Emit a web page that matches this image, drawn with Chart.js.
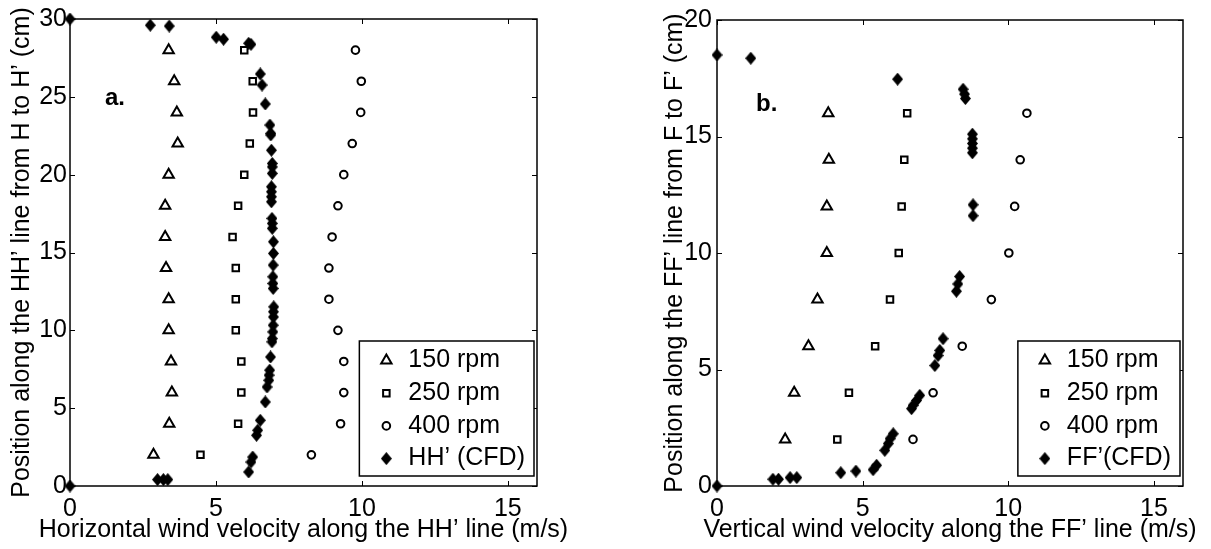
<!DOCTYPE html>
<html lang="en">
<head>
<meta charset="UTF-8">
<title>Wind velocity along HH' and FF'</title>
<script src="https://cdn.jsdelivr.net/npm/chart.js"></script>
<style>
  body { margin: 0; background: #fff; }
  .wrap { position: relative; width: 1211px; height: 549px; }
  canvas { position: absolute; top: 0; }
  #chartA { left: 0; }
  #chartB { left: 605px; }
</style>
</head>
<body>
<div class="wrap">
  <canvas id="chartA" width="605" height="549"></canvas>
  <canvas id="chartB" width="606" height="549"></canvas>
</div>

<script>
// ---- values ----
const xTicks = [0, 5, 10, 15];
const yTicksHH = [0, 5, 10, 15, 20, 25, 30];
const yTicksFF = [0, 5, 10, 15, 20];

// panel a: horizontal velocity along HH'
const posHH = [2, 4, 6, 8, 10, 12, 14, 16, 18, 20, 22, 24, 26, 28];
const hh150 = [2.86, 3.40, 3.49, 3.46, 3.38, 3.38, 3.29, 3.26, 3.26, 3.38, 3.69, 3.66, 3.57, 3.38];
const hh250 = [4.47, 5.76, 5.87, 5.87, 5.68, 5.68, 5.68, 5.57, 5.76, 5.97, 6.16, 6.27, 6.26, 5.97];
const hh400 = [8.27, 9.27, 9.38, 9.38, 9.18, 8.87, 8.87, 8.98, 9.18, 9.38, 9.67, 9.96, 9.98, 9.78];
const cfdHHvel = [0, 3.0, 3.2, 3.35, 6.12, 6.2, 6.26, 6.39, 6.43, 6.52, 6.69, 6.75, 6.81, 6.82, 6.84,
  6.87, 6.92, 6.93, 6.95, 6.96, 6.97, 6.97, 6.98, 6.96, 6.95, 6.95, 6.96, 6.97, 6.97, 6.93, 6.93,
  6.92, 6.9, 6.9, 6.9, 6.9, 6.93, 6.93, 6.93, 6.9, 6.88, 6.88, 6.85, 6.69, 6.58, 6.52, 6.2, 6.12,
  5.26, 5.01, 3.4, 2.75, 0];
const cfdHHpos = [0, 0.41, 0.41, 0.41, 0.9, 1.54, 1.86, 3.26, 3.58, 4.22, 5.4, 6.36, 6.79, 7.12, 7.44,
  8.29, 9.26, 9.47, 9.9, 10.33, 10.86, 11.19, 11.51, 12.69, 13.01, 13.44, 14.19, 14.94, 15.69, 16.55, 16.87,
  17.19, 18.26, 18.58, 18.9, 19.22, 20.08, 20.5, 20.72, 21.57, 22.55, 22.65, 23.19, 24.54, 25.76, 26.47, 28.37, 28.44,
  28.7, 28.83, 29.55, 29.6, 30];

// panel b: vertical velocity along FF'
const posFF = [2, 4, 6, 8, 10, 12, 14, 16];
const ff150 = [2.34, 2.65, 3.14, 3.45, 3.77, 3.77, 3.84, 3.82];
const ff250 = [4.13, 4.53, 5.43, 5.94, 6.24, 6.34, 6.43, 6.53];
const ff400 = [6.73, 7.42, 8.42, 9.42, 10.02, 10.22, 10.41, 10.64];
const cfdFFvel = [0, 1.92, 2.11, 2.51, 2.74, 4.25, 4.77, 5.36, 5.48, 5.76, 5.88, 5.94, 6.05,
  6.68, 6.73, 6.85, 6.96, 7.48, 7.59, 7.65, 7.76, 8.22, 8.27, 8.33, 8.79, 8.79,
  8.77, 8.77, 8.77, 8.77, 8.77, 8.53, 8.5, 8.45, 6.2, 1.16, 0];
const cfdFFpos = [0, 0.29, 0.29, 0.36, 0.36, 0.57, 0.64, 0.7, 0.89, 1.53, 1.82, 2.03, 2.24,
  3.32, 3.46, 3.67, 3.89, 5.17, 5.6, 5.82, 6.32, 8.36, 8.67, 8.99, 11.6, 12.07,
  14.3, 14.5, 14.7, 14.9, 15.1, 16.63, 16.82, 17.03, 17.46, 18.36, 18.5];

const FONT = '"Liberation Sans", Arial, sans-serif';
const pts = (xs, ys) => xs.map((v, i) => ({ x: v, y: ys[i] }));

// filled diamond, a bit taller than wide like the matlab marker
function diamond(w, h) {
  const c = document.createElement('canvas');
  c.width = w; c.height = h;
  const g = c.getContext('2d');
  g.fillStyle = '#000';
  g.beginPath();
  g.moveTo(w / 2, 0); g.lineTo(w, h / 2); g.lineTo(w / 2, h); g.lineTo(0, h / 2);
  g.closePath();
  g.fill();
  return c;
}
const diamondImg = diamond(11, 13);

function series(label, data, style, radius) {
  return {
    label, data,
    pointStyle: style,
    pointRadius: radius,
    pointHoverRadius: radius,
    borderWidth: 2,
    borderColor: '#000',
    backgroundColor: 'rgba(0,0,0,0)',
    showLine: false,
    clip: false
  };
}

// box, inside ticks, x title, panel tag and boxed legend like the matlab figure
const matlabLook = {
  id: 'matlabLook',
  beforeDatasetsDraw(chart) {
    const { ctx, chartArea: a, scales: { x, y } } = chart;
    ctx.save();
    ctx.strokeStyle = '#000';
    ctx.lineWidth = 1.5;
    ctx.strokeRect(a.left, a.top, a.width, a.height);
    ctx.lineWidth = 1;
    ctx.beginPath();
    x.ticks.forEach(t => {
      const px = Math.round(x.getPixelForValue(t.value)) + 0.5;
      ctx.moveTo(px, a.bottom); ctx.lineTo(px, a.bottom - 5);
      ctx.moveTo(px, a.top); ctx.lineTo(px, a.top + 5);
    });
    y.ticks.forEach(t => {
      const py = Math.round(y.getPixelForValue(t.value)) + 0.5;
      ctx.moveTo(a.left, py); ctx.lineTo(a.left + 5, py);
      ctx.moveTo(a.right, py); ctx.lineTo(a.right - 5, py);
    });
    ctx.stroke();
    // x title drawn here so it is not squeezed to the axis width
    ctx.fillStyle = '#000';
    ctx.font = '25px ' + FONT;
    ctx.textAlign = 'center';
    ctx.textBaseline = 'middle';
    ctx.fillText(chart.options.plugins.matlabLook.xTitle, (a.left + a.right) / 2, 530);
    ctx.restore();
  },
  afterDatasetsDraw(chart, args, opts) {
    const { ctx, chartArea: a, scales: { x, y } } = chart;
    ctx.save();
    ctx.fillStyle = '#000';
    ctx.font = 'bold 24px ' + FONT;
    ctx.textBaseline = 'alphabetic';
    ctx.fillText(opts.tag, x.getPixelForValue(opts.tagAt[0]), y.getPixelForValue(opts.tagAt[1]));

    const ds = chart.data.datasets;
    ctx.font = '25px ' + FONT;
    const textW = Math.max(...ds.map(d => ctx.measureText(d.label).width));
    const rowH = 32.7;
    const w = 49 + textW + 9, h = 135;
    const right = a.right - 3, bottom = a.bottom - 10;
    const left = right - w, top = bottom - h;
    ctx.fillStyle = '#fff';
    ctx.fillRect(left, top, w, h);
    ctx.strokeStyle = '#000';
    ctx.lineWidth = 1.5;
    ctx.strokeRect(left, top, w, h);
    ds.forEach((d, i) => {
      const cy = top + 19.5 + rowH * i;
      ctx.lineWidth = d.borderWidth;
      ctx.strokeStyle = '#000';
      ctx.fillStyle = d.backgroundColor;
      Chart.helpers.drawPoint(ctx, {
        pointStyle: d.pointStyle, radius: d.pointRadius, rotation: 0, borderWidth: d.borderWidth
      }, left + 27, cy);
      ctx.fillStyle = '#000';
      ctx.textBaseline = 'middle';
      ctx.textAlign = 'left';
      ctx.fillText(d.label, left + 49, cy);
    });
    ctx.restore();
  }
};

function scales(yTitle, yMax, yTicks, yWidth, yTitlePad, yLabelPad) {
  const font = { family: FONT, size: 25 };
  return {
    x: {
      type: 'linear', min: 0, max: 16,
      afterBuildTicks: s => { s.ticks = xTicks.map(v => ({ value: v })); },
      afterFit: s => { s.height = 63; },
      ticks: { font, color: '#000', padding: 8, maxRotation: 0 },
      grid: { display: false, drawTicks: false },
      border: { display: false }
    },
    y: {
      type: 'linear', min: 0, max: yMax,
      afterBuildTicks: s => { s.ticks = yTicks.map(v => ({ value: v })); },
      afterFit: s => { s.width = yWidth; },
      ticks: { font, color: '#000', padding: yLabelPad },
      grid: { display: false, drawTicks: false },
      border: { display: false },
      title: { display: true, text: yTitle, font, color: '#000', padding: { top: yTitlePad, bottom: 0 } }
    }
  };
}

new Chart(document.getElementById('chartA'), {
  type: 'scatter',
  data: {
    datasets: [
      series('150 rpm', pts(hh150, posHH), 'triangle', 6),
      series('250 rpm', pts(hh250, posHH), 'rect', 4.6),
      series('400 rpm', pts(hh400, posHH), 'circle', 3.8),
      series('HH\u2019 (CFD)', pts(cfdHHvel, cfdHHpos), diamondImg, 6)
    ]
  },
  options: {
    responsive: false,
    animation: false,
    events: [],
    layout: { padding: { top: 19, right: 68, bottom: 0, left: 0 } },
    scales: scales('Position along the HH\u2019 line from H to H\u2019 (cm)', 30, yTicksHH, 70, 7, 3),
    plugins: {
      legend: { display: false },
      tooltip: { enabled: false },
      matlabLook: {
        tag: 'a.', tagAt: [1.2, 24.47],
        xTitle: 'Horizontal wind velocity along the HH\u2019 line (m/s)'
      }
    }
  },
  plugins: [matlabLook]
});

new Chart(document.getElementById('chartB'), {
  type: 'scatter',
  data: {
    datasets: [
      series('150 rpm', pts(ff150, posFF), 'triangle', 6),
      series('250 rpm', pts(ff250, posFF), 'rect', 4.6),
      series('400 rpm', pts(ff400, posFF), 'circle', 3.8),
      series('FF\u2019(CFD)', pts(cfdFFvel, cfdFFpos), diamondImg, 6)
    ]
  },
  options: {
    responsive: false,
    animation: false,
    events: [],
    layout: { padding: { top: 19, right: 28, bottom: 0, left: 0 } },
    scales: scales('Position along the FF\u2019 line from F to F\u2019 (cm)', 20, yTicksFF, 112, 55, 5),
    plugins: {
      legend: { display: false },
      tooltip: { enabled: false },
      matlabLook: {
        tag: 'b.', tagAt: [1.34, 16.1],
        xTitle: 'Vertical wind velocity along the FF\u2019 line (m/s)'
      }
    }
  },
  plugins: [matlabLook]
});
</script>
</body>
</html>
